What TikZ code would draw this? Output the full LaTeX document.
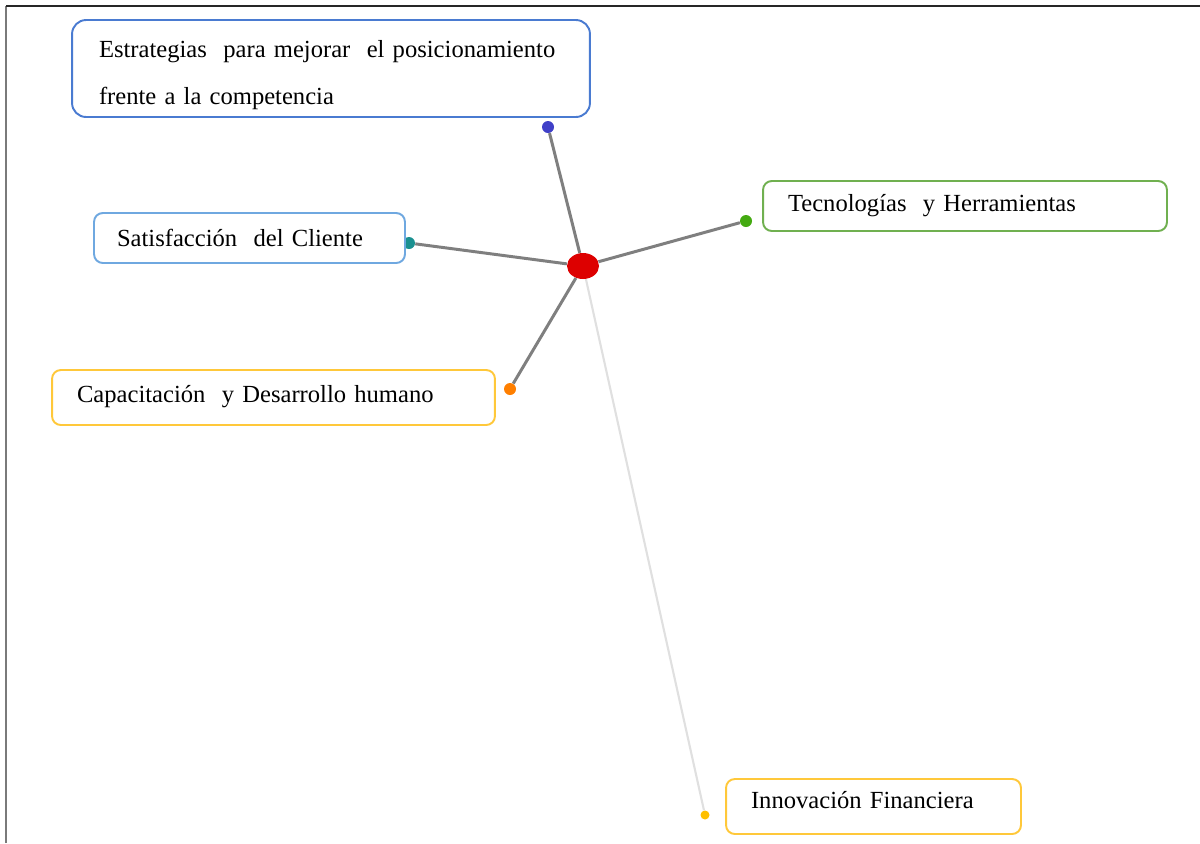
\documentclass[tikz,border=0pt]{standalone}
\usepackage{fontspec}
\setmainfont{Liberation Serif}
\usepackage{tikz}
\usetikzlibrary{shapes.geometric}

\definecolor{estrblue}{HTML}{4A7BD1}
\definecolor{satisblue}{HTML}{6FA8E0}
\definecolor{capyellow}{HTML}{FFC83A}
\definecolor{tecgreen}{HTML}{70B050}
\definecolor{dotblue}{HTML}{4040C8}
\definecolor{dotteal}{HTML}{1A9090}
\definecolor{dotorange}{HTML}{FF7F00}
\definecolor{dotgreen}{HTML}{44AA11}
\definecolor{dotyellow}{HTML}{FFC000}
\definecolor{hubred}{HTML}{DD0000}
\definecolor{linegray}{HTML}{7F7F7F}
\definecolor{framegray}{HTML}{7A7A7A}

\begin{document}
\begin{tikzpicture}[x=0.02cm,y=-0.02cm,
    box/.style={draw, line width=1.1pt, rounded corners=5pt, fill=white, align=left,
        font=\fontsize{14}{17}\selectfont, inner sep=0pt},
    dot/.style={circle, inner sep=0pt, minimum size=0.24cm},
    spoke/.style={draw=linegray, line width=1.7pt}]

    \useasboundingbox (0,0) rectangle (1200,843);
    \draw[line width=1.2pt, color=framegray] (6,843) -- (6,6);
    \draw[line width=1.2pt, color=black!85] (6,6) -- (1200,6);

    \node[ellipse, fill=hubred, inner sep=0pt, minimum width=0.64cm, minimum height=0.52cm] (hub) at (583,266) {};

    \node[dot, fill=dotblue] (dEstr) at (548,127) {};
    \node[dot, fill=dotteal] (dSatis) at (409,243) {};
    \node[dot, fill=dotorange] (dCapac) at (510,389) {};
    \node[dot, fill=dotgreen] (dTecno) at (746,221) {};
    \node[dot, fill=dotyellow, minimum size=0.18cm] (dInnov) at (705,815) {};

    \node[box, draw=estrblue, rounded corners=8pt, minimum width=10.36cm, minimum height=1.94cm, text width=9.28cm] (estr) at (331,68.5)
        {\rule{0pt}{17pt}\mbox{Estrategias~ para mejorar~ el posicionamiento}\\[9.7pt]frente a la competencia};
    \node[box, draw=satisblue, minimum width=6.22cm, minimum height=1cm, text width=5.3cm] (satis) at (249.5,238)
        {Satisfacción~ del Cliente};
    \node[box, draw=capyellow, minimum width=8.86cm, minimum height=1.1cm, text width=7.86cm] (capac) at (273.5,397.5)
        {Capacitación~ y Desarrollo humano\rule[-4pt]{0pt}{0pt}};
    \node[box, draw=tecgreen, minimum width=8.08cm, minimum height=1cm, text width=7.08cm] (tecno) at (965,206)
        {Tecnologías~ y Herramientas};
    \node[box, draw=capyellow, minimum width=5.9cm, minimum height=1.1cm, text width=4.9cm] (innov) at (873.5,806.5)
        {Innovación Financiera\rule[-7pt]{0pt}{0pt}};

    \draw[spoke] (hub) -- (dEstr);
    \draw[spoke] (hub) -- (dSatis);
    \draw[spoke] (hub) -- (dCapac);
    \draw[spoke] (hub) -- (dTecno);
    \draw[draw=black!12, line width=1.2pt] (hub) -- (dInnov);

\end{tikzpicture}
\end{document}
